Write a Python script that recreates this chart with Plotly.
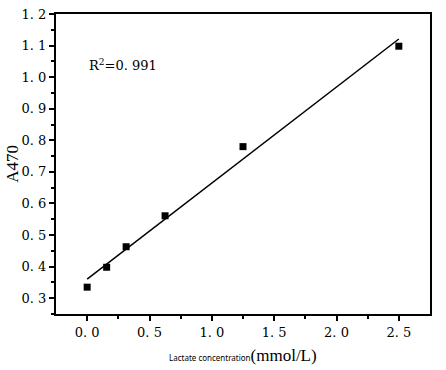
import numpy as np
import plotly.graph_objects as go

conc = [0.0, 0.15625, 0.3125, 0.625, 1.25, 2.5]
a470 = [0.335, 0.398, 0.463, 0.561, 0.780, 1.098]
x_ticks = [0.0, 0.5, 1.0, 1.5, 2.0, 2.5]
x_tick_labels = ["0. 0", "0. 5", "1. 0", "1. 5", "2. 0", "2. 5"]
y_ticks = [0.3, 0.4, 0.5, 0.6, 0.7, 0.8, 0.9, 1.0, 1.1, 1.2]
y_tick_labels = ["0. 3", "0. 4", "0. 5", "0. 6", "0. 7", "0. 8", "0. 9", "1. 0", "1. 1", "1. 2"]
r2_label = "R<sup>2</sup>=0. 991"

slope, intercept = np.polyfit(conc, a470, 1)
fit_x = [min(conc), max(conc)]
fit_y = [slope * v + intercept for v in fit_x]

serif = "DejaVu Serif"
serif2 = "Liberation Serif"

fig = go.Figure()
fig.add_trace(go.Scatter(x=fit_x, y=fit_y, mode="lines",
                         line=dict(color="black", width=1.5), showlegend=False))
fig.add_trace(go.Scatter(x=conc, y=a470, mode="markers",
                         marker=dict(symbol="square", size=7, color="black"),
                         showlegend=False))

fig.add_annotation(x=0.0, y=1.038, xref="x", yref="y", text=r2_label,
                   showarrow=False, xanchor="left", yanchor="middle",
                   font=dict(family=serif, size=13, color="black"))

fig.add_annotation(x=0.5, y=-0.137, xref="paper", yref="paper",
                   text="<span style='font-family:Noto Sans;font-size:8px'>Lactate concentration</span>(mmol/L)",
                   showarrow=False, xanchor="center", yanchor="middle",
                   font=dict(family=serif2, size=17, color="black"))

fig.add_annotation(x=-0.118, y=0.5, xref="paper", yref="paper", text="A470",
                   textangle=-90, showarrow=False, xanchor="center", yanchor="middle",
                   font=dict(family=serif2, size=17, color="black"))

axis_common = dict(showgrid=False, zeroline=False, showline=True, linecolor="black",
                   linewidth=2, mirror=True, ticks="outside", tickcolor="black",
                   tickwidth=1.5, ticklen=5, automargin=False,
                   tickfont=dict(family=serif, size=13, color="black"))

fig.update_xaxes(range=[-0.25, 2.75], tickvals=x_ticks, ticktext=x_tick_labels,
                 minor=dict(tickvals=[0.25, 0.75, 1.25, 1.75, 2.25], ticks="outside",
                            ticklen=3, tickcolor="black", tickwidth=1.5),
                 **axis_common)
fig.update_yaxes(range=[0.25, 1.2], tickvals=y_ticks, ticktext=y_tick_labels,
                 minor=dict(tickvals=[0.25, 0.35, 0.45, 0.55, 0.65, 0.75, 0.85, 0.95, 1.05, 1.15],
                            ticks="outside", ticklen=3, tickcolor="black", tickwidth=1.5),
                 **axis_common)

fig.update_layout(width=446, height=370, margin=dict(l=56, r=16, t=14, b=56),
                  plot_bgcolor="white", paper_bgcolor="white")

fig.write_html("out.html", config={"displayModeBar": False},
               post_script="document.body.style.margin='0';")
